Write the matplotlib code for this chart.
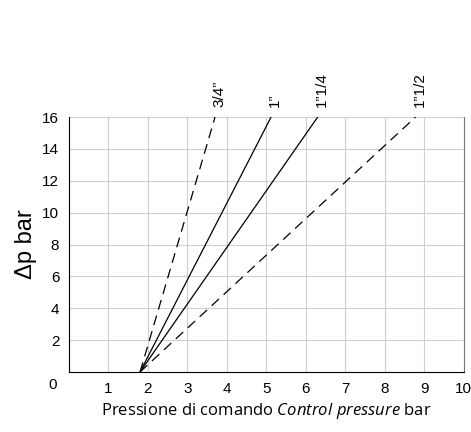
import matplotlib.pyplot as plt

plt.rcParams['font.family'] = ['Liberation Sans', 'DejaVu Sans']
plt.rcParams['mathtext.fontset'] = 'custom'
plt.rcParams['mathtext.rm'] = 'Open Sans'
plt.rcParams['mathtext.it'] = 'Open Sans:italic'

# dati
sizes = ['3/4”', '1”', '1”1/4', '1”1/2']
x_start = [1.8, 1.8, 1.8, 1.8]
x_end = [3.7, 5.12, 6.3, 8.78]
y_start = [0, 0, 0, 0]
y_end = [16, 16, 16, 16]
styles = ['dashed', 'solid', 'solid', 'dashed']

x_ticks = [1, 2, 3, 4, 5, 6, 7, 8, 9, 10]
y_ticks = [2, 4, 6, 8, 10, 12, 14, 16]

fig = plt.figure(figsize=(4.71, 4.32), dpi=100)
ax = fig.add_axes([0.1465, 0.139, 0.838, 0.590])

for name, xs, xe, ys, ye, st in zip(sizes, x_start, x_end, y_start, y_end, styles):
    if st == 'dashed':
        ax.plot([xs, xe], [ys, ye], color='black', lw=0.9, dashes=(8, 5))
    else:
        ax.plot([xs, xe], [ys, ye], color='black', lw=0.9)
    ax.annotate(name, (xe, ye), xytext=(3, 7), textcoords='offset points',
                rotation=90, ha='center', va='bottom', fontsize=11)

ax.set_xlim(0, 10)
ax.set_ylim(0, 16)
ax.set_xticks(x_ticks)
ax.set_yticks(y_ticks)
ax.tick_params(length=0, labelsize=11, pad=7)
ax.grid(True, color='#cfcfcf', lw=0.8)
ax.spines['top'].set_visible(False)
ax.spines['right'].set_color('#777777')
ax.text(-0.42, -0.85, '0', ha='center', va='center', fontsize=11)

ax.set_ylabel('Δp bar', fontsize=17, labelpad=4)
ax.set_xlabel('Pressione di comando $\\mathit{Control\\ pressure}$ bar', fontsize=12,
              labelpad=4, family='Open Sans')

plt.savefig('out.png', dpi=100)
